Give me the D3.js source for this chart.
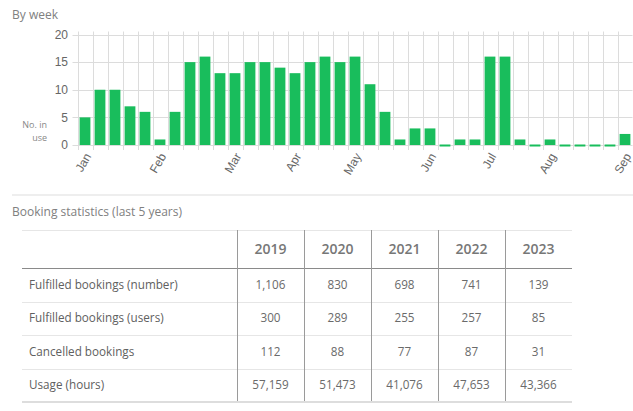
<!DOCTYPE html>
<html>
<head>
<meta charset="utf-8">
<script src="https://cdn.jsdelivr.net/npm/d3@7"></script>
<style>
  html, body { margin: 0; padding: 0; background: #fff; }
  svg { display: block; }
</style>
</head>
<body>
<div id="chart"></div>
<script>
// weekly usage, Jan..Sep
var weekValues = [5, 10, 10, 7, 6, 1, 6, 15, 16, 13, 13, 15, 15, 14, 13, 15, 16, 15, 16, 11, 6, 1, 3, 3, 0, 1, 1, 16, 16, 1, 0, 1, 0, 0, 0, 0, 2]
var monthLabels = ['Jan', 'Feb', 'Mar', 'Apr', 'May', 'Jun', 'Jul', 'Aug', 'Sep']
var monthWeek = [0, 5, 10, 14, 18, 23, 27, 31, 36]
var yTicks = [0, 5, 10, 15, 20]

// booking statistics table
var years = ['2019', '2020', '2021', '2022', '2023']
var rowLabels = ['Fulfilled bookings (number)', 'Fulfilled bookings (users)', 'Cancelled bookings', 'Usage (hours)']
var fulfilledNumber = [1106, 830, 698, 741, 139]
var fulfilledUsers = [300, 289, 255, 257, 85]
var cancelledBookings = [112, 88, 77, 87, 31]
var usageHours = [57159, 51473, 41076, 47653, 43366]
var tableRows = [fulfilledNumber, fulfilledUsers, cancelledBookings, usageHours]

var W = 633, H = 411
var svg = d3.select('#chart').append('svg').attr('width', W).attr('height', H)

var chartFont = '"Liberation Sans", Arial, sans-serif'
var uiFont = '"Open Sans", "Noto Sans", sans-serif'
var green = '#19bd5c'

// titles
svg.append('text').attr('x', 12).attr('y', 19)
  .style('font-family', uiFont).style('font-size', '12px').attr('fill', '#808080')
  .text('By week')

svg.append('line').attr('x1', 12).attr('x2', W).attr('y1', 195).attr('y2', 195)
  .attr('stroke', '#eeeeee').attr('stroke-width', 2)

// ---- bar chart ----
var x = d3.scaleBand().domain(d3.range(weekValues.length)).range([77.5, 632.5])
  .paddingInner(0.28).paddingOuter(0.14)
var y = d3.scaleLinear().domain([0, 20]).range([145, 34.5])
var step = x.step()
var x0 = x.range()[0]

var grid = svg.append('g')
grid.selectAll('line.h').data(yTicks).enter().append('line')
  .attr('x1', x0 - 5).attr('x2', x.range()[1])
  .attr('y1', d => Math.round(y(d)) + 0.5).attr('y2', d => Math.round(y(d)) + 0.5)
  .attr('stroke', '#dcdcdc')
grid.selectAll('line.v').data(d3.range(weekValues.length + 1)).enter().append('line')
  .attr('x1', d => Math.round(x0 + d * step) + 0.5).attr('x2', d => Math.round(x0 + d * step) + 0.5)
  .attr('y1', y(20) - 3).attr('y2', y(0) + 5)
  .attr('stroke', '#dcdcdc')

svg.append('g').selectAll('text').data(yTicks).enter().append('text')
  .attr('x', 68).attr('y', d => y(d)).attr('dy', '0.35em')
  .attr('text-anchor', 'end')
  .style('font-family', chartFont).style('font-size', '12px').attr('fill', '#666')
  .text(d => d)

svg.append('text').attr('text-anchor', 'end')
  .style('font-family', uiFont).style('font-size', '9px').attr('fill', '#888')
  .selectAll('tspan').data(['No. in', 'use']).enter().append('tspan')
  .attr('x', 47).attr('y', (d, i) => 128 + i * 13).text(d => d)

svg.append('g').selectAll('rect').data(weekValues).enter().append('rect')
  .attr('x', (d, i) => x(i))
  .attr('width', x.bandwidth())
  .attr('y', d => d > 0 ? y(d) : y(0) - 0.5)
  .attr('height', d => d > 0 ? y(0) - y(d) : 2)
  .attr('fill', green)

svg.append('g').selectAll('text').data(monthLabels).enter().append('text')
  .attr('transform', (d, i) => 'translate(' + (x(monthWeek[i]) + x.bandwidth() / 2 + 3) + ',' + (y(0) + 9) + ') rotate(-60)')
  .attr('text-anchor', 'end').attr('dy', '0.35em')
  .style('font-family', chartFont).style('font-size', '12px').attr('fill', '#666')
  .text(d => d)

// ---- table ----
svg.append('text').attr('x', 12).attr('y', 216)
  .style('font-family', uiFont).style('font-size', '12px').attr('fill', '#808080')
  .text('Booking statistics (last 5 years)')

var tLeft = 22, tRight = 572, tTop = 230, headBottom = 268, tBottom = 402
var col = d3.scaleBand().domain(years).range([237, tRight])
var row = d3.scaleBand().domain(rowLabels).range([headBottom, tBottom])
var fmt = d3.format(',')

var tbl = svg.append('g')
tbl.append('line').attr('x1', tLeft).attr('x2', tRight).attr('y1', tTop + 0.5).attr('y2', tTop + 0.5)
  .attr('stroke', '#e6e6e6')
tbl.selectAll('line.r').data(rowLabels.slice(1)).enter().append('line')
  .attr('x1', tLeft).attr('x2', tRight)
  .attr('y1', d => Math.round(row(d)) + 0.5).attr('y2', d => Math.round(row(d)) + 0.5)
  .attr('stroke', '#e6e6e6')
tbl.append('line').attr('x1', tLeft).attr('x2', tRight).attr('y1', tBottom).attr('y2', tBottom)
  .attr('stroke', '#dddddd').attr('stroke-width', 2)
tbl.append('line').attr('x1', tLeft).attr('x2', tRight).attr('y1', headBottom + 0.5).attr('y2', headBottom + 0.5)
  .attr('stroke', '#8a8a8a')
tbl.selectAll('line.c').data(years).enter().append('line')
  .attr('x1', d => Math.round(col(d)) + 0.5).attr('x2', d => Math.round(col(d)) + 0.5)
  .attr('y1', tTop).attr('y2', tBottom - 1)
  .attr('stroke', '#9a9a9a')

tbl.selectAll('text.h').data(years).enter().append('text')
  .attr('x', d => col(d) + col.bandwidth() / 2).attr('y', (tTop + headBottom) / 2).attr('dy', '0.35em')
  .attr('text-anchor', 'middle')
  .style('font-family', uiFont).style('font-size', '14px').style('font-weight', 600).attr('fill', '#777')
  .text(d => d)

tbl.selectAll('text.l').data(rowLabels).enter().append('text')
  .attr('x', 29).attr('y', d => row(d) + row.bandwidth() / 2).attr('dy', '0.35em')
  .style('font-family', uiFont).style('font-size', '11.7px').attr('fill', '#606060')
  .text(d => d)

tableRows.forEach(function(vals, r) {
  tbl.selectAll('text.v' + r).data(vals).enter().append('text')
    .attr('x', (d, i) => col(years[i]) + col.bandwidth() / 2)
    .attr('y', row(rowLabels[r]) + row.bandwidth() / 2).attr('dy', '0.35em')
    .attr('text-anchor', 'middle')
    .style('font-family', uiFont).style('font-size', '11.7px').attr('fill', '#6a6a6a')
    .text(d => fmt(d))
})
</script>
</body>
</html>
